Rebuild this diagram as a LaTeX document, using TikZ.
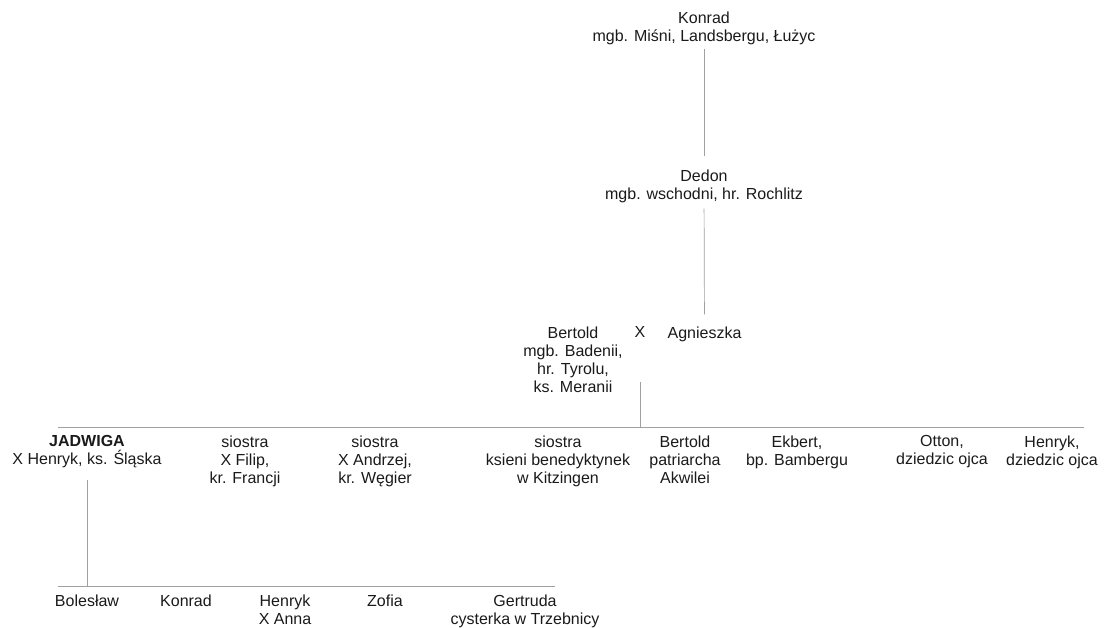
\documentclass[tikz,border=0pt]{standalone}
\usepackage{fontspec}
\setmainfont{Liberation Sans}
\definecolor{ink}{HTML}{1A1A1A}
\definecolor{lin}{HTML}{A0A0A0}
\begin{document}
\begin{tikzpicture}[x=1pt,y=-1pt,
  person/.style={anchor=north,inner sep=0pt,align=center,text=ink,
    font=\fontsize{16}{18}\selectfont},
  link/.style={draw=lin,line width=0.7pt}]
\useasboundingbox (0,0) rectangle (1111,628);
% generation 1-3
\node[person] (konrad) at (704,11.3) {Konrad\\mgb. Miśni, Landsbergu, Łużyc};
\node[person] (dedon) at (704,169.3) {Dedon\\mgb. wschodni, hr. Rochlitz};
\node[person] (bertold) at (573,326.3) {Bertold\\mgb. Badenii,\\hr. Tyrolu,\\ks. Meranii};
\node[person] (xmark) at (640,326.3) {X};
\node[person] (agnieszka) at (704.5,326.3) {Agnieszka};
% children
\node[person] (jadwiga) at (87,435.3) {\textbf{JADWIGA}\\X Henryk, ks. Śląska};
\node[person] (filip) at (245,435.3) {siostra\\X Filip,\\kr. Francji};
\node[person] (andrzej) at (375,435.3) {siostra\\X Andrzej,\\kr. Węgier};
\node[person] (ksieni) at (558,435.3) {siostra\\ksieni benedyktynek\\w Kitzingen};
\node[person] (bertold2) at (685,435.3) {Bertold\\patriarcha\\Akwilei};
\node[person] (ekbert) at (797,435.3) {Ekbert,\\bp. Bambergu};
\node[person] (otton) at (942,435.3) {Otton,\\dziedzic ojca};
\node[person] (henryk) at (1052,435.3) {Henryk,\\dziedzic ojca};
% grandchildren
\node[person] (boleslaw) at (87,594.3) {Bolesław};
\node[person] (konrad2) at (186,594.3) {Konrad};
\node[person] (henryk2) at (285,594.3) {Henryk\\X Anna};
\node[person] (zofia) at (385,594.3) {Zofia};
\node[person] (gertruda) at (525,594.3) {Gertruda\\cysterka w Trzebnicy};
% connectors
\coordinate (hl) at (58,427);
\coordinate (hr) at (1084,427);
\coordinate (mj) at (640,427);
\coordinate (bl) at (58,586);
\coordinate (br) at (555,586);
\coordinate (bj) at (87,586);
\draw[link,shorten <=4pt,shorten >=13pt] (konrad) -- (dedon);
\draw[link,shorten <=6pt,shorten >=12pt] (dedon) -- (agnieszka);
\draw[link,shorten <=44pt] (xmark.south) -- (mj);
\draw[link] (hl) -- (hr);
\draw[link,shorten <=12pt] (jadwiga.south) -- (bj);
\draw[link] (bl) -- (br);
\end{tikzpicture}
\end{document}
